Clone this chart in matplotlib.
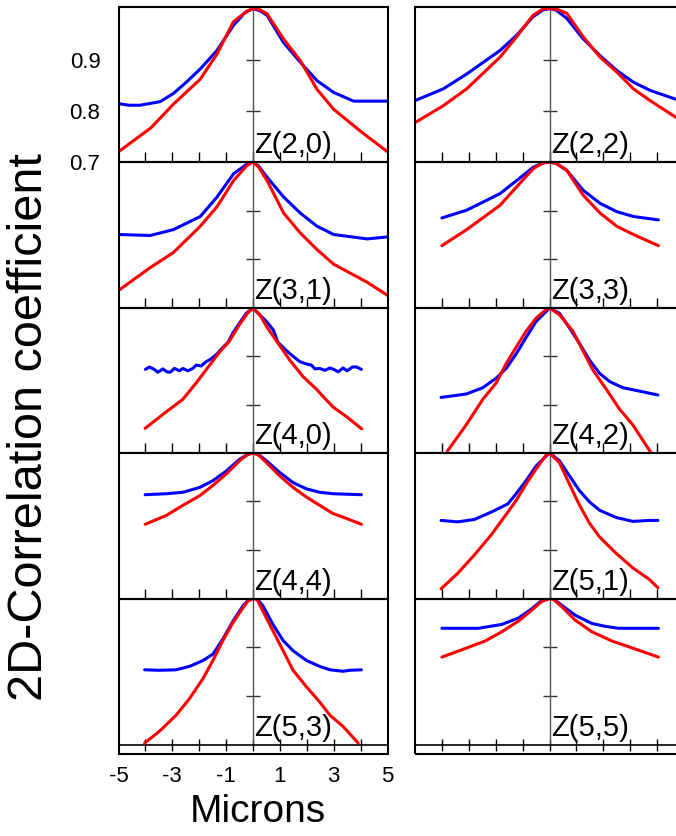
import matplotlib
matplotlib.use("Agg")
import matplotlib.pyplot as plt
from matplotlib.patches import Rectangle

plt.rcParams['font.family'] = ['Liberation Sans', 'DejaVu Sans']
plt.rcParams['axes.unicode_minus'] = False

# ---------------- data ----------------
labels = ["Z(2,0)", "Z(2,2)", "Z(3,1)", "Z(3,3)", "Z(4,0)",
          "Z(4,2)", "Z(4,4)", "Z(5,1)", "Z(5,3)", "Z(5,5)"]

z20_bx = [-5, -4.6, -4.2, -3.45, -2.96, -2.5, -1.96, -1.34, -0.73, -0.3, 0, 0.25, 0.52, 1.13, 1.76, 2.38, 3.0, 3.74, 5]
z20_by = [0.814, 0.811, 0.811, 0.818, 0.834, 0.855, 0.882, 0.918, 0.967, 0.992, 1.0, 0.996, 0.987, 0.934, 0.895, 0.859, 0.836, 0.819, 0.819]
z20_rx = [-5, -3.79, -2.96, -1.96, -1.34, -0.73, -0.23, 0, 0.2, 0.52, 1.13, 1.76, 2.38, 3.0, 4.0, 5]
z20_ry = [0.72, 0.767, 0.813, 0.862, 0.911, 0.974, 0.995, 1.0, 0.999, 0.99, 0.941, 0.898, 0.842, 0.803, 0.76, 0.72]

z22_bx = [-5, -3.95, -3.08, -1.84, -1.22, -0.61, -0.25, 0, 0.25, 0.64, 1.25, 1.88, 2.5, 3.12, 3.74, 4.68, 5]
z22_by = [0.82, 0.843, 0.872, 0.918, 0.948, 0.984, 0.997, 1.0, 0.997, 0.981, 0.941, 0.908, 0.879, 0.856, 0.84, 0.823, 0.82]
z22_rx = [-5, -3.95, -3.08, -1.84, -1.22, -0.61, -0.25, 0, 0.25, 0.64, 1.25, 1.88, 2.5, 3.12, 3.74, 4.68, 5]
z22_ry = [0.777, 0.81, 0.843, 0.905, 0.945, 0.987, 0.999, 1.0, 0.999, 0.991, 0.945, 0.905, 0.876, 0.843, 0.82, 0.788, 0.78]

z31_bx = [-5, -3.82, -2.96, -1.96, -1.34, -0.72, -0.22, 0, 0.2, 0.52, 1.14, 1.76, 2.38, 3.0, 4.24, 5]
z31_by = [0.851, 0.849, 0.861, 0.888, 0.928, 0.976, 0.996, 1.0, 0.992, 0.969, 0.928, 0.895, 0.868, 0.851, 0.842, 0.846]
z31_rx = [-5, -3.82, -2.96, -1.96, -1.34, -0.72, -0.22, 0, 0.2, 0.52, 1.14, 1.76, 2.38, 3.0, 4.24, 5]
z31_ry = [0.736, 0.783, 0.814, 0.868, 0.908, 0.962, 0.993, 1.0, 0.99, 0.962, 0.895, 0.854, 0.82, 0.79, 0.753, 0.726]

z33_bx = [-4, -3.08, -1.84, -1.22, -0.61, -0.25, 0, 0.25, 0.64, 1.25, 1.88, 2.5, 3.12, 4.05]
z33_by = [0.885, 0.901, 0.935, 0.962, 0.989, 0.998, 1.0, 0.997, 0.983, 0.942, 0.915, 0.898, 0.888, 0.881]
z33_rx = [-4, -3.08, -1.84, -1.22, -0.61, -0.25, 0, 0.25, 0.64, 1.25, 1.88, 2.5, 3.12, 4.05]
z33_ry = [0.828, 0.861, 0.911, 0.949, 0.986, 0.998, 1.0, 0.997, 0.983, 0.932, 0.895, 0.868, 0.851, 0.828]

z40_bx = [-4.0, -3.85, -3.67, -3.54, -3.35, -3.2, -3.08, -2.92, -2.73, -2.61, -2.42, -2.24, -2.11, -1.93,
          -1.74, -1.55, -1.34, -1.18, -0.93, -0.74, -0.5, -0.25, 0, 0.25, 0.5, 0.75, 0.93, 1.24, 1.49,
          1.74, 1.99, 2.17, 2.3, 2.48, 2.67, 2.86, 3.0, 3.17, 3.35, 3.5, 3.7, 3.85, 4.03]
z40_by = [0.873, 0.878, 0.873, 0.867, 0.874, 0.868, 0.867, 0.875, 0.870, 0.875, 0.870, 0.875, 0.882, 0.880,
          0.889, 0.895, 0.905, 0.915, 0.929, 0.949, 0.969, 0.989, 1.0, 0.986, 0.972, 0.955, 0.929, 0.912, 0.900,
          0.889, 0.884, 0.882, 0.874, 0.875, 0.871, 0.876, 0.873, 0.868, 0.876, 0.870, 0.878, 0.878, 0.873]
z40_rx = [-4.01, -3.23, -2.61, -2.11, -1.61, -1.24, -0.87, -0.5, -0.19, 0, 0.25, 0.5, 0.87, 1.37, 1.86, 2.36, 2.67, 2.98, 3.48, 4.04]
z40_ry = [0.751, 0.785, 0.811, 0.845, 0.882, 0.909, 0.932, 0.966, 0.99, 1.0, 0.986, 0.962, 0.932, 0.892, 0.858, 0.832, 0.813, 0.795, 0.775, 0.75]

z42_bx = [-4.03, -3.1, -2.48, -1.98, -1.61, -1.24, -0.87, -0.5, -0.12, 0, 0.37, 0.74, 1.12, 1.49, 1.86, 2.23, 2.73, 3.35, 4.03]
z42_by = [0.815, 0.822, 0.835, 0.855, 0.875, 0.905, 0.939, 0.972, 0.993, 1.0, 0.989, 0.959, 0.926, 0.892, 0.865, 0.848, 0.835, 0.828, 0.82]
z42_rx = [-4.0, -3.78, -3.1, -2.48, -1.98, -1.61, -1.24, -0.87, -0.5, -0.12, 0, 0.37, 0.87, 1.24, 1.61, 2.11, 2.6, 3.1, 3.72, 4.0]
z42_ry = [0.68, 0.705, 0.758, 0.811, 0.845, 0.885, 0.919, 0.952, 0.979, 0.997, 1.0, 0.986, 0.952, 0.912, 0.872, 0.832, 0.791, 0.758, 0.705, 0.685]

z44_bx = [-4.01, -3.23, -2.61, -1.98, -1.49, -0.99, -0.5, -0.2, 0, 0.2, 0.5, 0.99, 1.49, 1.99, 2.48, 2.98, 4.03]
z44_by = [0.914, 0.916, 0.919, 0.929, 0.943, 0.963, 0.987, 0.997, 1.0, 0.997, 0.984, 0.96, 0.939, 0.926, 0.919, 0.916, 0.914]
z44_rx = [-4.01, -3.23, -2.61, -1.98, -1.49, -0.99, -0.5, -0.2, 0, 0.2, 0.5, 0.99, 1.49, 1.99, 2.48, 2.98, 3.48, 4.03]
z44_ry = [0.853, 0.871, 0.892, 0.912, 0.933, 0.957, 0.984, 0.997, 1.0, 0.996, 0.98, 0.953, 0.929, 0.909, 0.892, 0.875, 0.865, 0.853]

z51_bx = [-4.03, -3.41, -2.79, -2.17, -1.55, -1.24, -0.87, -0.5, -0.12, 0, 0.37, 0.74, 1.12, 1.49, 1.86, 2.48, 3.1, 3.72, 4.03]
z51_by = [0.861, 0.858, 0.863, 0.878, 0.895, 0.916, 0.943, 0.973, 0.994, 1.0, 0.984, 0.953, 0.922, 0.899, 0.882, 0.867, 0.859, 0.861, 0.861]
z51_rx = [-4.03, -3.41, -2.79, -2.17, -1.55, -1.24, -0.87, -0.5, -0.12, 0, 0.37, 0.74, 1.12, 1.49, 1.86, 2.48, 3.1, 3.72, 4.03]
z51_ry = [0.72, 0.752, 0.79, 0.831, 0.878, 0.902, 0.936, 0.967, 0.996, 1.0, 0.98, 0.936, 0.892, 0.855, 0.827, 0.793, 0.763, 0.739, 0.722]

z53_bx = [-4.03, -3.48, -2.86, -2.36, -1.86, -1.49, -1.12, -0.74, -0.37, -0.19, 0, 0.15, 0.37, 0.74, 1.12, 1.49,
          1.99, 2.48, 2.86, 3.35, 3.6, 4.03]
z53_by = [0.854, 0.853, 0.854, 0.861, 0.873, 0.886, 0.917, 0.954, 0.985, 0.996, 1.0, 0.999, 0.985, 0.947, 0.914, 0.893,
          0.873, 0.861, 0.854, 0.851, 0.853, 0.854]
z53_rx = [-4.03, -3.48, -2.86, -2.36, -1.86, -1.49, -1.12, -0.74, -0.37, -0.19, 0, 0.15, 0.37, 0.74, 1.12, 1.49,
          1.99, 2.48, 2.86, 3.35, 3.91]
z53_ry = [0.704, 0.728, 0.761, 0.795, 0.836, 0.873, 0.914, 0.951, 0.981, 0.995, 1.0, 0.998, 0.974, 0.934, 0.893, 0.853,
          0.819, 0.788, 0.761, 0.738, 0.704]

z55_bx = [-4.0, -2.64, -1.77, -1.15, -0.66, -0.29, 0, 0.15, 0.46, 0.95, 1.57, 2.07, 2.57, 4.05]
z55_by = [0.939, 0.939, 0.947, 0.96, 0.979, 0.996, 1.0, 0.999, 0.986, 0.966, 0.949, 0.943, 0.939, 0.939]
z55_rx = [-4.0, -3.26, -2.39, -1.77, -1.15, -0.66, -0.29, 0, 0.15, 0.46, 0.95, 1.57, 2.32, 3.06, 4.05]
z55_ry = [0.88, 0.895, 0.913, 0.932, 0.954, 0.976, 0.994, 1.0, 0.998, 0.983, 0.956, 0.932, 0.913, 0.899, 0.88]

blue_x = [z20_bx, z22_bx, z31_bx, z33_bx, z40_bx, z42_bx, z44_bx, z51_bx, z53_bx, z55_bx]
blue_y = [z20_by, z22_by, z31_by, z33_by, z40_by, z42_by, z44_by, z51_by, z53_by, z55_by]
red_x = [z20_rx, z22_rx, z31_rx, z33_rx, z40_rx, z42_rx, z44_rx, z51_rx, z53_rx, z55_rx]
red_y = [z20_ry, z22_ry, z31_ry, z33_ry, z40_ry, z42_ry, z44_ry, z51_ry, z53_ry, z55_ry]

x_tick_marks = [-4, -3, -2, -1, 0, 1, 2, 3, 4]
x_tick_vals = [-5, -3, -1, 1, 3, 5]
x_tick_text = ["-5", "-3", "-1", "1", "3", "5"]
y_tick_marks = [0.8, 0.9]
y_tick_vals = [0.7, 0.8, 0.9]
y_tick_text = ["0.7", "0.8", "0.9"]

# ---------------- layout ----------------
W, H = 676, 836
fig = plt.figure(figsize=(W / 100, H / 100), dpi=100)

col_left = [118.5, 415.0]
col_w = 269.0
row_px = [(7.3, 162.0), (162.0, 308.0), (308.0, 453.0), (453.0, 598.5), (598.5, 754.0)]
row_ylim = [(0.7, 1.0025), (0.7, 1.0), (0.7, 1.0), (0.7, 1.0), (0.6816, 1.0)]

for i in range(10):
    r, c = divmod(i, 2)
    top, bot = row_px[r]
    ax = fig.add_axes([col_left[c] / W, 1 - bot / H, col_w / W, (bot - top) / H])
    ax.set_xlim(-5, 5)
    ax.set_ylim(*row_ylim[r])
    ax.patch.set_alpha(0)

    ax.plot(blue_x[i], blue_y[i], color='#0000ff', lw=2.2, solid_capstyle='round',
            solid_joinstyle='round', zorder=3)
    ax.plot(red_x[i], red_y[i], color='#ff0000', lw=2.2, solid_capstyle='round',
            solid_joinstyle='round', zorder=4)

    # inner axes: vertical at x=0, horizontal at y=0.7
    ax.spines['left'].set_position(('data', 0))
    ax.spines['left'].set_color('#555555')
    ax.spines['left'].set_linewidth(1.0)
    ax.spines['left'].set_bounds(0.7, row_ylim[r][1])
    ax.spines['bottom'].set_position(('data', 0.7))
    ax.spines['bottom'].set_color('black')
    ax.spines['bottom'].set_linewidth(1.2)
    ax.spines['top'].set_visible(False)
    ax.spines['right'].set_visible(False)

    ax.set_xticks(x_tick_marks)
    ax.set_yticks(y_tick_marks)
    ax.tick_params(axis='x', direction='inout' if r == 4 else 'in', length=9 if r == 4 else 7,
                   width=1.0, color='black', labelbottom=False)
    ax.tick_params(axis='y', direction='inout', length=10, width=1.0, color='#333333', labelleft=False)

    # outer frame
    ax.add_patch(Rectangle((0, 0), 1, 1, transform=ax.transAxes, fill=False,
                           edgecolor='black', lw=1.5, clip_on=False, zorder=5))

    ax.annotate(labels[i], xy=(0, 0.7), xytext=(1.0, 2.0), textcoords='offset points',
                ha='left', va='bottom', fontsize=21, color='black', zorder=6)

    if i == 0:
        sy = ax.secondary_yaxis(0.0)
        sy.set_yticks(y_tick_vals, y_tick_text)
        sy.tick_params(length=0, pad=13, labelsize=16)
        sy.spines['left'].set_visible(False)
    if i == 8:
        sx = ax.secondary_xaxis(0.0)
        sx.set_xticks(x_tick_vals, x_tick_text)
        sx.tick_params(length=0, pad=9, labelsize=16)
        sx.spines['bottom'].set_visible(False)

fig.text(30 / W, 1 - 427 / H, "2D-Correlation coefficient", rotation=90,
         ha='center', va='center', fontsize=35)
fig.text(258 / W, 1 - 812 / H, "Microns", ha='center', va='center', fontsize=28)

fig.savefig("out.png", dpi=100)
